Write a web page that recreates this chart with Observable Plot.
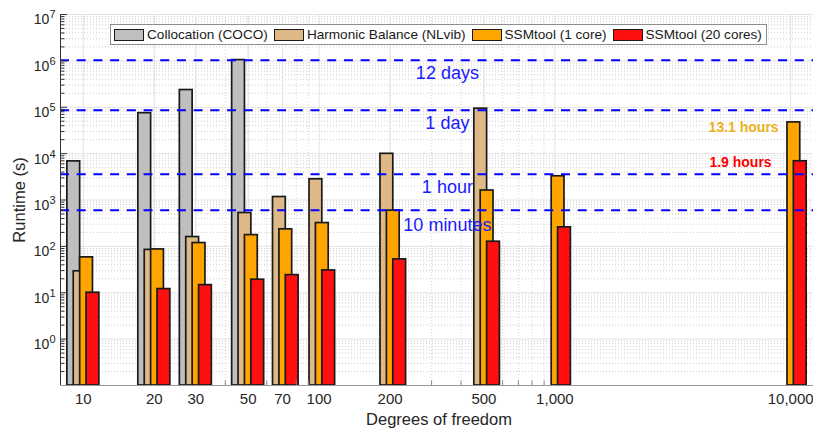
<!DOCTYPE html>
<html><head><meta charset="utf-8">
<script src="https://cdn.jsdelivr.net/npm/d3@7"></script>
<script src="https://cdn.jsdelivr.net/npm/@observablehq/plot@0.6"></script>
<style>
body{margin:0;background:#fff;}
#wrap{position:relative;width:813px;height:431px;font-family:"Liberation Sans",Arial,Helvetica,sans-serif;}
#legend{position:absolute;left:110px;top:24px;height:21px;box-sizing:border-box;border:1px solid #8c8c8c;background:#fff;display:flex;align-items:center;padding:0 4px 0 3px;font-size:13.6px;color:#1a1a1a;white-space:nowrap;}
.item{display:flex;align-items:center;margin-right:6px;}
.item:last-child{margin-right:0}
.sw{width:30px;height:12px;box-sizing:border-box;border:1.6px solid #1a1a1a;margin-right:3px;}
</style></head><body><div id="wrap"></div>
<script>
// ---- data ----
const dof = [10, 20, 30, 50, 70, 100, 200, 500, 1000, 10000];
const seriesNames = ["Collocation (COCO)", "Harmonic Balance (NLvib)", "SSMtool (1 core)", "SSMtool (20 cores)"];
const cocoRuntime  = [6800, 74500, 235000, 1040000, null, null, null, null, null, null];
const nlvibRuntime = [29, 84, 159, 524, 1160, 2800, 9900, 93000, null, null];
const ssm1Runtime  = [58, 86, 118, 175, 233, 318, 590, 1600, 3250, 47160];
const ssm20Runtime = [10, 12, 14.6, 19.1, 24, 30.3, 52.4, 126, 257, 6840];
const seriesColors = ["#bfbfbf", "#deb887", "#ffa500", "#ff0f0f"];
const xTickValues = [10, 20, 30, 50, 70, 100, 200, 500, 1000, 10000];
const yTickValues = [1, 10, 100, 1000, 1e4, 1e5, 1e6, 1e7];
const thresholdSeconds = [600, 3600, 86400, 1036800];
const thresholdLabels = ["10 minutes", "1 hour", "1 day", "12 days"];
const hourLabels = ["13.1 hours", "1.9 hours"];
const hourValues = [47160, 6840];

// ---- derived ----
const X_DOMAIN = [8, 12500];
const Y_DOMAIN = [0.1, 1e7];
const allSeries = [cocoRuntime, nlvibRuntime, ssm1Runtime, ssm20Runtime];
const rows = allSeries.map((vals, i) =>
  dof.map((d, j) => ({dof: d, value: vals[j], series: seriesNames[i]})).filter(r => r.value != null));
const yMinor = []; for (let e = -1; e < 7; e++) for (let k = 2; k < 10; k++) yMinor.push(k * 10 ** e);
const xMinor = []; for (let e = 1; e < 3; e++) for (let k = 2; k < 10; k++) xMinor.push(k * 10 ** e);
const xMinorTicks = xMinor.filter(v => !xTickValues.includes(v));
const supMap = {"0":"⁰","1":"¹","2":"²","3":"³","4":"⁴","5":"⁵","6":"⁶","7":"⁷","8":"⁸","9":"⁹","-":"⁻"};
const supFmt = d => "10" + String(Math.round(Math.log10(d))).split("").map(c => supMap[c]).join("");

const offsets = [-9.6, -3.2, 3.2, 9.6];
const barMarks = rows.map((data, i) => Plot.rect(data, {
  x1: "dof", x2: "dof", y1: Y_DOMAIN[0], y2: "value",
  fill: "series", stroke: "#1a1a1a", strokeWidth: 1.7,
  insetLeft: -6.4, insetRight: -6.4, dx: offsets[i]
}));

const chart = Plot.plot({
  width: 813, height: 431,
  marginLeft: 60, marginRight: 0, marginTop: 14, marginBottom: 46,
  style: {fontFamily: '"Liberation Sans", Arial, Helvetica, sans-serif', fontSize: "14px", background: "white", color: "#262626"},
  x: {type: "log", domain: X_DOMAIN},
  y: {type: "log", domain: Y_DOMAIN},
  color: {domain: seriesNames, range: seriesColors},
  marks: [
    // grid
    Plot.ruleY(yMinor, {stroke: "#cfcfcf", strokeDasharray: "1,2"}),
    Plot.ruleX(xMinor, {stroke: "#d6d6d6", strokeDasharray: "1,2"}),
    Plot.ruleY(yTickValues, {stroke: "#e2e2e2"}),
    Plot.ruleX(xTickValues, {stroke: "#e2e2e2"}),
    // bars
    ...barMarks,
    // thresholds
    Plot.ruleY(thresholdSeconds, {stroke: "#0000ff", strokeWidth: 2, strokeDasharray: "9,7.7"}),
    Plot.text(thresholdLabels.slice(1), {x: 350, y: (d, i) => thresholdSeconds[i + 1], text: d => d, fill: "#1a1aff", fontSize: 18, dy: 13}),
    Plot.text(thresholdLabels.slice(0, 1), {x: 350, y: (d, i) => thresholdSeconds[i], text: d => d, fill: "#1a1aff", fontSize: 18, dy: 15}),
    Plot.text(hourLabels.slice(0, 1), {x: dof[9], y: (d, i) => hourValues[i], text: d => d, fill: "#edb120", fontSize: 14, fontWeight: "bold", textAnchor: "end", dx: -12, dy: 5}),
    Plot.text(hourLabels.slice(1), {x: dof[9], y: (d, i) => hourValues[i + 1], text: d => d, fill: "#ff0000", fontSize: 14, fontWeight: "bold", textAnchor: "end", dx: -19, dy: 1}),
    // axes
    Plot.ruleX([X_DOMAIN[0]], {stroke: "#333"}),
    Plot.ruleY([Y_DOMAIN[0]], {stroke: "#999"}),
    Plot.axisY({ticks: yMinor, tickSize: -4.5, tickFormat: () => "", label: null, color: "#333"}),
    Plot.axisY({ticks: yTickValues, tickSize: -7, tickPadding: 0, tickFormat: () => "", label: null, color: "#333"}),
    Plot.axisY({ticks: yTickValues, tickSize: 0, tickPadding: 5, tickFormat: supFmt, label: null, fontSize: 14, dy: 5.5, color: "#262626"}),
    Plot.axisX({ticks: xMinorTicks, tickSize: -4.5, tickFormat: () => "", label: null, color: "#888"}),
    Plot.text(xTickValues, {x: d => d, y: Y_DOMAIN[0], text: d3.format(","), dy: 14, lineAnchor: "middle", fontSize: 15, fill: "#262626"}),
    Plot.text(["Degrees of freedom"], {frameAnchor: "bottom", text: d => d, dy: 34, dx: 2, lineAnchor: "middle", fontSize: 16.5, fill: "#262626"}),
    Plot.text(["Runtime (s)"], {frameAnchor: "left", text: d => d, rotate: -90, dx: -41, textAnchor: "middle", lineAnchor: "middle", fontSize: 16.5, fill: "#262626"})
  ]
});

// render exponents as real superscripts
const revSup = Object.fromEntries(Object.entries(supMap).map(([k, v]) => [v, k]));
chart.querySelectorAll('g[aria-label="y-axis tick label"] text').forEach(t => {
  const s = t.textContent;
  if (!s.startsWith("10")) return;
  const exp = s.slice(2).split("").map(c => revSup[c] ?? c).join("");
  t.textContent = "10";
  const ts = document.createElementNS("http://www.w3.org/2000/svg", "tspan");
  ts.setAttribute("dy", "-6");
  ts.setAttribute("font-size", "11");
  ts.textContent = exp;
  t.appendChild(ts);
});

const wrap = document.getElementById("wrap");
wrap.appendChild(chart);
const legend = document.createElement("div");
legend.id = "legend";
seriesNames.forEach((name, i) => {
  const item = document.createElement("div");
  item.className = "item";
  const sw = document.createElement("span");
  sw.className = "sw";
  sw.style.background = seriesColors[i];
  const lab = document.createElement("span");
  lab.textContent = name;
  item.appendChild(sw); item.appendChild(lab);
  legend.appendChild(item);
});
wrap.appendChild(legend);
</script></body></html>
